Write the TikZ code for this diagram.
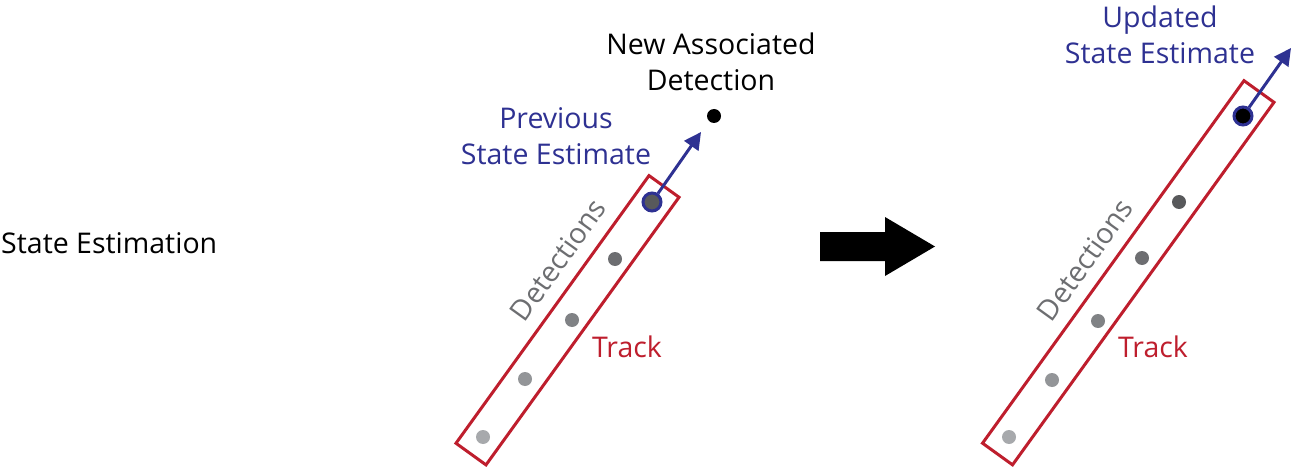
\documentclass[tikz,border=0pt]{standalone}
\usepackage{fontspec}
\setmainfont{Open Sans}
\usetikzlibrary{arrows.meta,positioning}

\definecolor{navy}{RGB}{46,49,146}
\definecolor{trackred}{RGB}{190,30,45}
\definecolor{textgray}{RGB}{109,110,113}
\definecolor{dotA}{RGB}{167,169,172}
\definecolor{dotB}{RGB}{147,149,152}
\definecolor{dotC}{RGB}{128,130,133}
\definecolor{dotD}{RGB}{109,110,113}
\definecolor{dotE}{RGB}{88,89,91}

\begin{document}
\begin{tikzpicture}[
  x=1pt, y=-1pt,
  font=\fontsize{28.5}{36}\selectfont,
  trackbox/.style={draw=trackred, line width=3pt, minimum width=330pt, minimum height=37pt, inner sep=0pt, rotate=54.2},
  det/.style={circle, inner sep=0pt, minimum size=14pt},
  est/.style={det, draw=navy, line width=3pt, minimum size=18pt},
  move/.style={navy, line width=3pt, -{Triangle[length=17pt,width=17pt]}},
  lbl/.style={align=center, inner sep=0pt}
]
\useasboundingbox (0,0) rectangle (1293,468);

\node[lbl, anchor=west] (title) at (1,243) {State Estimation};

% before the update
\node[trackbox] (trackA) at (567.5,320.25) {};
\node[det, fill=dotA] (a1) at (483,437) {};
\node[det, fill=dotB] (a2) at (525,379) {};
\node[det, fill=dotC] (a3) at (572,320) {};
\node[det, fill=dotD] (a4) at (615,259) {};
\node[est, fill=dotE] (a5) at (652,202) {};
\node[det, fill=black] (newdet) at (714,116) {};
\coordinate (tipA) at (701,132);
\draw[move] (a5) -- (tipA);

\node[lbl, textgray, rotate=54.2] (detA) at (558,260) {Detections};
\node[lbl, trackred] (lblA) at (627,347) {Track};
\node[lbl, navy] (prev) at (556,136) {Previous\\State Estimate};
\node[lbl] (newlbl) at (711,62) {New Associated\\Detection};

% big arrow
\fill (820,232) -- (885,232) -- (885,217) -- (935,246.5) -- (885,276) -- (885,261) -- (820,261) -- cycle;

% after the update
\node[trackbox, minimum width=447pt] (trackB) at (1128.25,272.75) {};
\node[det, fill=dotA] (b1) at (1009,437) {};
\node[det, fill=dotB] (b2) at (1052,380) {};
\node[det, fill=dotC] (b3) at (1098,321) {};
\node[det, fill=dotD] (b4) at (1142,258) {};
\node[det, fill=dotE] (b5) at (1179,202) {};
\node[est, fill=black] (b6) at (1243,116) {};
\coordinate (tipB) at (1291,48);
\draw[move] (b6) -- (tipB);

\node[lbl, textgray, rotate=54.2] (detB) at (1085,260) {Detections};
\node[lbl, trackred] (lblB) at (1153,347) {Track};
\node[lbl, navy] (upd) at (1160,35) {Updated\\State Estimate};
\end{tikzpicture}
\end{document}
